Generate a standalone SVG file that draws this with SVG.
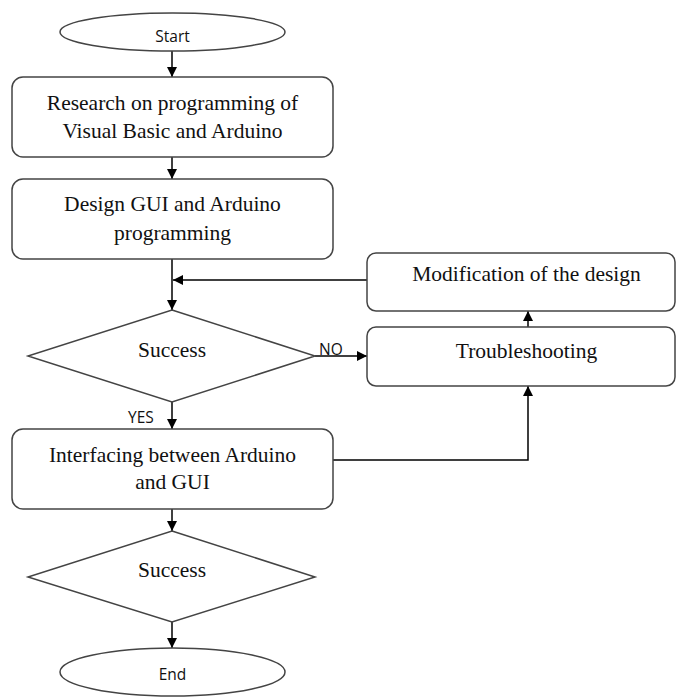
<svg xmlns="http://www.w3.org/2000/svg" width="677" height="698" viewBox="0 0 677 698">
<style>
.box{fill:#fff;stroke:#444;stroke-width:1.5}
.t{font-family:"Liberation Serif","Times New Roman",serif;font-size:21.5px;fill:#111;text-anchor:middle}
.s{font-family:"Open Sans","Liberation Sans",sans-serif;font-size:15.5px;fill:#111}
.c{fill:none;stroke:#000;stroke-width:1.5}
</style>
<defs>
<marker id="ah" markerUnits="userSpaceOnUse" markerWidth="10" markerHeight="10" refX="10" refY="5" orient="auto" viewBox="0 0 10 10">
<path d="M0,0 L10,5 L0,10 z" fill="#000"/>
</marker>
</defs>
<rect width="677" height="698" fill="#fff"/>
<g id="connectors">
<line class="c" x1="172" y1="51" x2="172" y2="77" marker-end="url(#ah)"/>
<line class="c" x1="172" y1="157" x2="172" y2="179" marker-end="url(#ah)"/>
<line class="c" x1="172" y1="259" x2="172" y2="310" marker-end="url(#ah)"/>
<line class="c" x1="367" y1="280" x2="173" y2="280" marker-end="url(#ah)"/>
<line class="c" x1="315" y1="356" x2="367" y2="356" marker-end="url(#ah)"/>
<line class="c" x1="528" y1="327" x2="528" y2="311" marker-end="url(#ah)"/>
<polyline class="c" points="333,460 528,460 528,386" marker-end="url(#ah)"/>
<line class="c" x1="172" y1="402" x2="172" y2="429" marker-end="url(#ah)"/>
<line class="c" x1="172" y1="509" x2="172" y2="531" marker-end="url(#ah)"/>
<line class="c" x1="172" y1="622" x2="172" y2="648" marker-end="url(#ah)"/>
<text class="s" x="128" y="423">YES</text>
<text class="s" x="319" y="355">NO</text>
</g>
<g id="start">
<ellipse class="box" cx="172.5" cy="32" rx="112.5" ry="19"/>
<text class="s" x="172.5" y="42" text-anchor="middle">Start</text>
</g>
<g id="research">
<rect class="box" x="12" y="77" width="321" height="80" rx="11"/>
<text class="t" x="172.5" y="110">Research on programming of</text>
<text class="t" x="172.5" y="138">Visual Basic and Arduino</text>
</g>
<g id="design">
<rect class="box" x="12" y="179" width="321" height="80" rx="11"/>
<text class="t" x="172.5" y="211">Design GUI and Arduino</text>
<text class="t" x="172.5" y="240">programming</text>
</g>
<g id="modification">
<rect class="box" x="367" y="253" width="308" height="58" rx="9"/>
<text class="t" x="526.5" y="281">Modification of the design</text>
</g>
<g id="success1">
<polygon class="box" points="172,310 315,356 172,402 28,356"/>
<text class="t" x="172" y="357">Success</text>
</g>
<g id="troubleshooting">
<rect class="box" x="367" y="327" width="308" height="59" rx="9"/>
<text class="t" x="526.5" y="358">Troubleshooting</text>
</g>
<g id="interfacing">
<rect class="box" x="12" y="429" width="321" height="80" rx="11"/>
<text class="t" x="172.5" y="462">Interfacing between Arduino</text>
<text class="t" x="172.5" y="489">and GUI</text>
</g>
<g id="success2">
<polygon class="box" points="172,531 315,577 172,622 28,577"/>
<text class="t" x="172" y="577">Success</text>
</g>
<g id="end">
<ellipse class="box" cx="172.5" cy="672" rx="112.5" ry="24"/>
<text class="s" x="172.5" y="680" text-anchor="middle">End</text>
</g>
</svg>
